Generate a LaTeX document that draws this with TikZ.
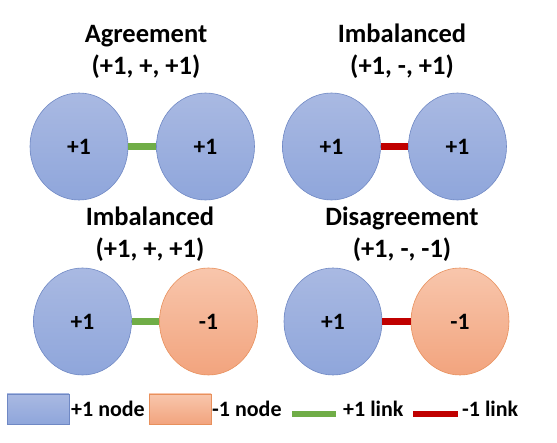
\documentclass[tikz,border=0pt]{standalone}
\usepackage{fontspec}
\setmainfont{Carlito}
\usetikzlibrary{shapes.geometric}

\definecolor{bluetop}{HTML}{A9B9E2}
\definecolor{bluebot}{HTML}{8FA6DB}
\definecolor{blueline}{HTML}{6F88C4}
\definecolor{orgtop}{HTML}{F8C6AC}
\definecolor{orgbot}{HTML}{F2A47E}
\definecolor{orgline}{HTML}{E8905C}
\definecolor{linkgreen}{HTML}{70AD47}
\definecolor{linkred}{HTML}{C00000}

\tikzset{
  posnode/.style={ellipse, draw=blueline, line width=0.6pt, top color=bluetop, bottom color=bluebot,
    minimum width=98pt, minimum height=107pt, inner sep=0pt, font=\fontsize{23.5}{28}\selectfont\bfseries},
  negnode/.style={posnode, draw=orgline, top color=orgtop, bottom color=orgbot},
  poslink/.style={linkgreen, line width=7pt},
  neglink/.style={linkred, line width=7pt},
  title/.style={anchor=base, font=\fontsize{26.5}{32}\selectfont\bfseries},
  legtext/.style={anchor=base west, inner sep=0pt, font=\fontsize{22}{26}\selectfont\bfseries}
}

\begin{document}
\begin{tikzpicture}[x=1pt,y=-1pt]
\useasboundingbox (0,0) rectangle (557,443);
\fill[white] (0,0) rectangle (557,443);
% top left
\node[title] (t1a) at (146,43) {Agreement};
\node[title] (t1b) at (146,75) {(+1, +, +1)};
\node[posnode] (a1) at (79,146.5) {+1};
\node[posnode] (b1) at (205.5,146.5) {+1};
\draw[poslink] (a1) -- (b1);
% top right
\node[title] (t2a) at (402,43) {Imbalanced};
\node[title] (t2b) at (402,75) {(+1, -, +1)};
\node[posnode] (a2) at (331.5,146.5) {+1};
\node[posnode] (b2) at (457.5,146.5) {+1};
\draw[neglink] (a2) -- (b2);
% bottom left
\node[title] (t3a) at (150,226) {Imbalanced};
\node[title] (t3b) at (150,258) {(+1, +, +1)};
\node[posnode] (a3) at (82.5,321.5) {+1};
\node[negnode] (b3) at (208.5,321.5) {-1};
\draw[poslink] (a3) -- (b3);
% bottom right
\node[title] (t4a) at (402,226) {Disagreement};
\node[title] (t4b) at (402,258) {(+1, -, -1)};
\node[posnode] (a4) at (333,321.5) {+1};
\node[negnode] (b4) at (460,321.5) {-1};
\draw[neglink] (a4) -- (b4);
% legend
\node[rectangle, draw=blueline, line width=0.6pt, top color=bluetop, bottom color=bluebot,
  minimum width=62pt, minimum height=30pt] (kpos) at (38,409) {};
\node[legtext] (lpos) at (71,417) {+1 node};
\node[rectangle, draw=orgline, line width=0.6pt, top color=orgtop, bottom color=orgbot,
  minimum width=62pt, minimum height=30pt] (kneg) at (180,409) {};
\node[legtext] (lneg) at (212,417) {-1 node};
\coordinate (g1) at (292,414);
\coordinate (g2) at (336,414);
\draw[poslink, line width=6pt] (g1) -- (g2);
\node[legtext] (lgreen) at (343,417) {+1 link};
\coordinate (r1) at (413,414);
\coordinate (r2) at (458,414);
\draw[neglink, line width=6pt] (r1) -- (r2);
\node[legtext] (lred) at (462,417) {-1 link};
\end{tikzpicture}
\end{document}
